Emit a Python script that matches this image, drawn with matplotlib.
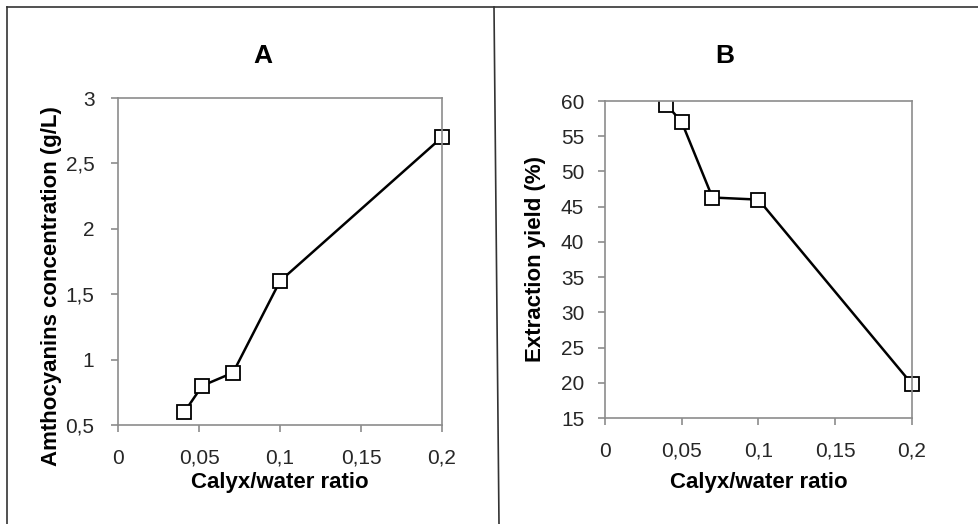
import matplotlib.pyplot as plt
from matplotlib.lines import Line2D
from matplotlib.patches import Rectangle

plt.rcParams['font.family'] = ['Liberation Sans', 'DejaVu Sans']

# panel A: anthocyanins concentration vs calyx/water ratio
ratio_a = [0.041, 0.052, 0.071, 0.1, 0.2]
conc_a = [0.6, 0.8, 0.9, 1.6, 2.7]

# panel B: extraction yield vs calyx/water ratio
ratio_b = [0.04, 0.05, 0.07, 0.1, 0.2]
yield_b = [59.5, 57.0, 46.3, 46.0, 19.8]
yield_err = [0.0, 0.6, 0.6, 0.8, 0.4]

xticks = [0, 0.05, 0.1, 0.15, 0.2]
xticklabels = ["0", "0,05", "0,1", "0,15", "0,2"]
yticks_a = [0.5, 1, 1.5, 2, 2.5, 3]
yticklabels_a = ["0,5", "1", "1,5", "2", "2,5", "3"]
yticks_b = [15, 20, 25, 30, 35, 40, 45, 50, 55, 60]

W, H = 979, 524
fig = plt.figure(figsize=(W / 100, H / 100), dpi=100)


def px_axes(left, top, right, bottom):
    return fig.add_axes([left / W, 1 - bottom / H, (right - left) / W, (bottom - top) / H])


def style(ax, ypad):
    for s in ax.spines.values():
        s.set_color("#8c8c8c")
        s.set_linewidth(1.2)
    ax.tick_params(direction="out", length=5, color="#8c8c8c", width=1.2,
                   labelsize=15, labelcolor="#262626")
    ax.tick_params(axis="x", pad=12)
    ax.tick_params(axis="y", pad=ypad)


# outer frame lines
fig.add_artist(Line2D([7 / W, 1], [1 - 7 / H, 1 - 7 / H], color="#333333", lw=1.2))
fig.add_artist(Line2D([7 / W, 7 / W], [0, 1 - 7 / H], color="#333333", lw=1.2))
fig.add_artist(Line2D([494 / W, 499 / W], [1 - 7 / H, 0], color="#333333", lw=1.2))

mk = dict(color="black", lw=1.8, marker="s", markersize=10, markerfacecolor="white",
          markeredgecolor="black", markeredgewidth=1.3)
lab = dict(fontsize=16, fontweight="bold")

axA = px_axes(118, 98, 442, 425)
axA.plot(ratio_a, conc_a, clip_on=False, **mk)
axA.set_xlim(0, 0.2)
axA.set_ylim(0.5, 3)
axA.set_xticks(xticks, xticklabels)
axA.set_yticks(yticks_a, yticklabels_a)
axA.set_xlabel("Calyx/water ratio", **lab)
axA.set_ylabel("Amthocyanins concentration (g/L)", **lab)
axA.xaxis.set_label_coords(0.5, -0.177)
axA.yaxis.set_label_coords(-0.204, 0.425)
axA.xaxis.label.set_va("center")
axA.yaxis.label.set_va("center")
style(axA, 12)

axB = px_axes(605, 101, 912, 418)
axB.errorbar(ratio_b, yield_b, yerr=yield_err, capsize=4, ecolor="black", elinewidth=1, **mk)
# clip only at the top edge (first marker is cut there), keep the last one whole
clip = Rectangle((-0.1, -0.1), 1.2, 1.1, transform=axB.transAxes, visible=False)
axB.add_patch(clip)
for art in axB.lines + axB.collections:
    art.set_clip_path(clip)
axB.set_xlim(0, 0.2)
axB.set_ylim(15, 60)
axB.set_xticks(xticks, xticklabels)
axB.set_yticks(yticks_b)
axB.set_xlabel("Calyx/water ratio", **lab)
axB.set_ylabel("Extraction yield (%)", **lab)
axB.xaxis.set_label_coords(0.5, -0.205)
axB.yaxis.set_label_coords(-0.228, 0.5)
axB.xaxis.label.set_va("center")
axB.yaxis.label.set_va("center")
style(axB, 10)

fig.text(263 / W, 1 - 56 / H, "A", fontsize=19, fontweight="bold", ha="center", va="center")
fig.text(725 / W, 1 - 56 / H, "B", fontsize=19, fontweight="bold", ha="center", va="center")

fig.savefig("out.png", dpi=100)
